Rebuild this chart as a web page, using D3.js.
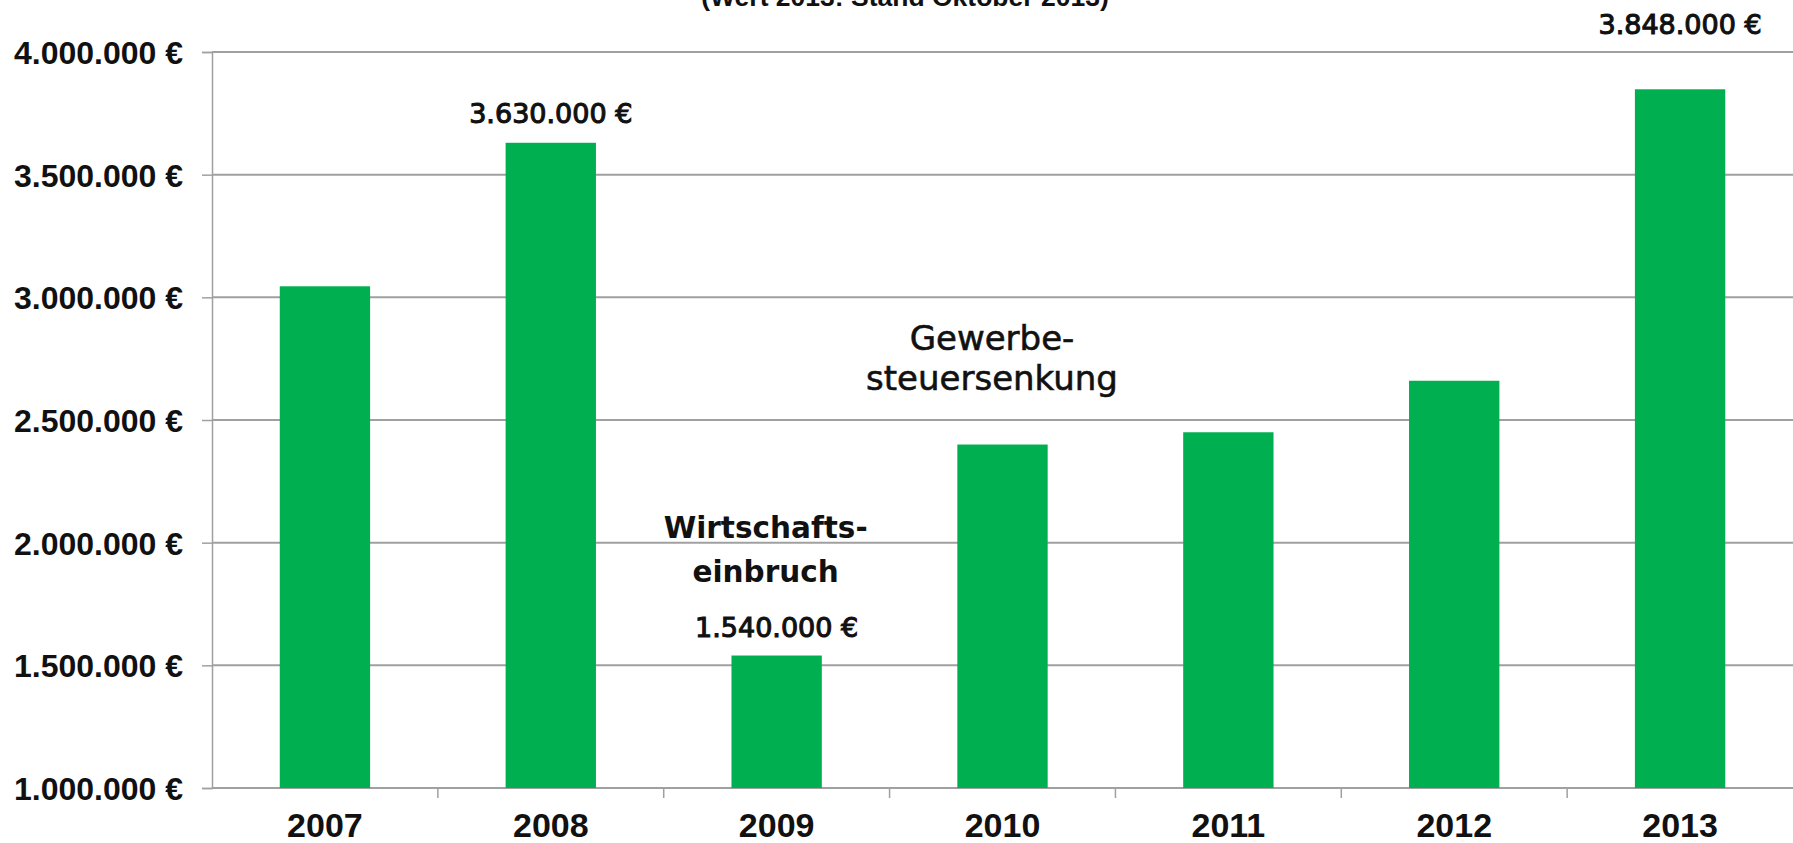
<!DOCTYPE html>
<html>
<head>
<meta charset="utf-8">
<script src="https://cdn.jsdelivr.net/npm/d3@7"></script>
<style>
  html, body { margin: 0; padding: 0; background: #fff; }
  svg { display: block; }
</style>
</head>
<body>
<svg id="chart" width="1793" height="843"></svg>
<script>
const years = ['2007', '2008', '2009', '2010', '2011', '2012', '2013'];
const values = [3045000, 3630000, 1540000, 2400000, 2450000, 2660000, 3848000];
const yTicks = [1000000, 1500000, 2000000, 2500000, 3000000, 3500000, 4000000];
const labelledYears = ['2008', '2009', '2013'];
const noteCrash = ['Wirtschafts-', 'einbruch'];
const noteTax = ['Gewerbe-', 'steuersenkung'];
const subtitle = '(Wert 2013: Stand Oktober 2013)';

const margin = { top: 52, right: 0, bottom: 55, left: 212 };
const outerWidth = 1793;
const outerHeight = 843;
const width = outerWidth - margin.left - margin.right;
const height = outerHeight - margin.top - margin.bottom;

const de = d3.formatLocale({ decimal: ',', thousands: '.', grouping: [3], currency: ['', ' €'] });
const euro = de.format('$,.0f');

const x = d3.scaleBand().domain(years).range([0, width]).paddingInner(0.6).paddingOuter(0.3);
const y = d3.scaleLinear().domain([1000000, 4000000]).range([height, 0]);

const svg = d3.select('#chart');
const chart = svg.append('g')
  .attr('transform', 'translate(' + margin.left + ',' + margin.top + ')');

// subtitle, mostly cut off at the top edge (as in the original)
svg.append('text')
  .attr('x', 905)
  .attr('y', 6)
  .attr('text-anchor', 'middle')
  .style('font-family', 'Liberation Sans, Arial, sans-serif')
  .style('font-weight', 'bold')
  .style('font-size', '26.5px')
  .style('fill', '#111')
  .text(subtitle);

// grid lines
chart.append('g')
  .selectAll('line')
  .data(yTicks)
  .enter()
  .append('line')
  .attr('x1', 0)
  .attr('x2', width)
  .attr('y1', d => y(d))
  .attr('y2', d => y(d))
  .style('stroke', '#a0a0a0')
  .style('stroke-width', 2);

// y axis
const yAxis = chart.append('g')
  .call(d3.axisLeft(y).tickValues(yTicks).tickSize(10).tickPadding(19).tickFormat(euro));
yAxis.select('.domain').style('stroke', '#a0a0a0').style('stroke-width', 1.5);
yAxis.selectAll('.tick line').style('stroke', '#a0a0a0').style('stroke-width', 1.5);
yAxis.selectAll('text')
  .style('font-family', 'Liberation Sans, Arial, sans-serif')
  .style('font-weight', 'bold')
  .style('font-size', '32px')
  .style('fill', '#111')
  .attr('dy', '0.36em');

// x axis: labels centred, ticks on the band boundaries
const xAxis = chart.append('g')
  .attr('transform', 'translate(0,' + height + ')')
  .call(d3.axisBottom(x).tickSize(0).tickPadding(25));
xAxis.select('.domain').remove();
xAxis.selectAll('text')
  .style('font-family', 'Liberation Sans, Arial, sans-serif')
  .style('font-weight', 'bold')
  .style('font-size', '34px')
  .style('fill', '#111');

const gap = (x.step() - x.bandwidth()) / 2;
chart.append('g')
  .selectAll('line')
  .data(years.slice(1))
  .enter()
  .append('line')
  .attr('x1', d => x(d) - gap)
  .attr('x2', d => x(d) - gap)
  .attr('y1', height)
  .attr('y2', height + 10)
  .style('stroke', '#a0a0a0')
  .style('stroke-width', 1.5);

// bars
chart.selectAll('.bar')
  .data(years)
  .enter()
  .append('rect')
  .attr('class', 'bar')
  .attr('x', d => x(d))
  .attr('width', x.bandwidth())
  .attr('y', (d, i) => y(values[i]))
  .attr('height', (d, i) => height - y(values[i]))
  .style('fill', '#00b050');

// value labels (2013 sits up by the top grid line)
const lift = { '2008': 20, '2009': 19, '2013': 55 };
chart.selectAll('.value')
  .data(labelledYears)
  .enter()
  .append('text')
  .attr('class', 'value')
  .attr('x', d => x(d) + x.bandwidth() / 2)
  .attr('y', d => y(values[years.indexOf(d)]) - lift[d])
  .attr('text-anchor', 'middle')
  .style('font-family', 'DejaVu Sans, sans-serif')
  .style('font-size', '27px')
  .style('fill', '#111')
  .style('stroke', '#111')
  .style('stroke-width', 1.1)
  .text(d => euro(values[years.indexOf(d)]));

// annotations
const crashX = x('2009') + x.bandwidth() / 2 - 11;
chart.append('text')
  .attr('x', crashX)
  .attr('y', 538 - margin.top)
  .attr('text-anchor', 'middle')
  .style('font-family', 'DejaVu Sans, sans-serif')
  .style('font-weight', 'bold')
  .style('font-size', '29.5px')
  .style('fill', '#111')
  .selectAll('tspan')
  .data(noteCrash)
  .enter()
  .append('tspan')
  .attr('x', crashX)
  .attr('dy', (d, i) => i === 0 ? 0 : 44)
  .text(d => d);

const taxX = 992 - margin.left;
chart.append('text')
  .attr('x', taxX)
  .attr('y', 350 - margin.top)
  .attr('text-anchor', 'middle')
  .style('font-family', 'DejaVu Sans, sans-serif')
  .style('font-size', '34px')
  .style('fill', '#111')
  .style('stroke', '#111')
  .style('stroke-width', 0.6)
  .selectAll('tspan')
  .data(noteTax)
  .enter()
  .append('tspan')
  .attr('x', taxX)
  .attr('dy', (d, i) => i === 0 ? 0 : 40)
  .text(d => d);
</script>
</body>
</html>
